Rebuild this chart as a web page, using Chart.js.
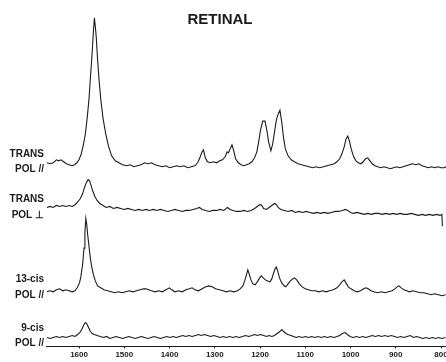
<!DOCTYPE html>
<html>
<head>
<meta charset="utf-8">
<title>Retinal</title>
<script src="https://cdn.jsdelivr.net/npm/chart.js@4/dist/chart.umd.min.js"></script>
<style>
  html, body { margin: 0; padding: 0; background: #fff; }
  #wrap { width: 446px; height: 362px; position: relative; }
</style>
</head>
<body>
<div id="wrap"><canvas id="retinalChart"></canvas></div>
<script>
// Raman shift (cm-1) and intensity above each trace's own baseline
const transPar = [
  [1671, 3], [1664, 2], [1657, 3], [1650, 6], [1645, 5], [1640, 6], [1634, 4], [1628, 2], [1622, 1], [1616, 0],
  [1610, 1], [1605, 3], [1600, 6], [1595, 12], [1590, 22], [1586, 32], [1582, 48], [1578, 67], [1575, 88], [1572, 107],
  [1570, 122], [1568, 137], [1566, 149], [1564, 140], [1562, 130], [1559, 107], [1556, 88], [1552, 67], [1547, 48], [1541, 32],
  [1535, 20], [1528, 10], [1520, 5], [1512, 3], [1504, 1], [1495, 0], [1487, 1], [1479, -1], [1471, 0], [1463, 1],
  [1455, 3], [1447, 2], [1440, 3], [1432, 1], [1424, 0], [1416, -1], [1408, 0], [1400, -2], [1392, -1], [1384, 0],
  [1376, -1], [1368, 0], [1360, -2], [1352, -1], [1344, 0], [1338, 3], [1333, 8], [1328, 14], [1325, 16], [1321, 8],
  [1316, 4], [1310, 3], [1303, 4], [1296, 3], [1289, 5], [1283, 6], [1277, 9], [1273, 14], [1270, 13], [1266, 17],
  [1262, 21], [1258, 15], [1254, 7], [1248, 3], [1242, 1], [1236, 0], [1230, 1], [1224, 2], [1218, 4], [1212, 8],
  [1207, 14], [1203, 24], [1199, 36], [1194, 45], [1189, 45], [1185, 36], [1181, 24], [1176, 15], [1172, 22], [1168, 34],
  [1164, 46], [1160, 52], [1156, 56], [1152, 44], [1148, 28], [1144, 17], [1138, 10], [1131, 6], [1124, 4], [1116, 2],
  [1108, 1], [1100, 0], [1092, -1], [1084, -2], [1076, -1], [1068, -2], [1060, -1], [1052, 0], [1044, 1], [1036, 2],
  [1030, 4], [1024, 7], [1019, 12], [1014, 19], [1010, 27], [1006, 30], [1002, 24], [998, 16], [993, 9], [988, 5],
  [983, 3], [977, 2], [972, 4], [967, 7], [962, 8], [957, 5], [952, 2], [946, 0], [940, -1], [933, -2],
  [926, -1], [919, -2], [912, -3], [905, -2], [898, -1], [891, -2], [884, -1], [877, 0], [870, 1], [863, 2],
  [856, 1], [849, 2], [842, 0], [835, -1], [828, -2], [821, -1], [814, -2], [807, -1], [800, -2], [793, -2], [789, -1]
];

const transPerp = [
  [1671, 1], [1664, 2], [1657, 1], [1650, 3], [1643, 2], [1636, 3], [1629, 2], [1622, 3], [1615, 2], [1608, 4],
  [1602, 7], [1597, 10], [1592, 15], [1588, 21], [1584, 26], [1580, 29], [1577, 28], [1574, 24], [1570, 18], [1565, 12],
  [1560, 8], [1554, 5], [1547, 3], [1540, 1], [1532, 2], [1524, 0], [1516, 1], [1508, 0], [1500, -1], [1492, 0],
  [1484, -1], [1476, -2], [1468, -1], [1460, -2], [1452, -1], [1444, -2], [1436, -1], [1428, -2], [1420, -1], [1412, -2],
  [1404, -3], [1396, -2], [1388, -1], [1380, -2], [1372, -3], [1364, -2], [1356, -2], [1348, -1], [1340, 0], [1334, 1],
  [1328, -1], [1320, -2], [1312, -3], [1304, -2], [1296, -2], [1288, -1], [1280, -2], [1272, 1], [1266, -1], [1260, -2],
  [1252, -3], [1244, -3], [1236, -2], [1228, -3], [1220, -2], [1212, 0], [1206, 2], [1200, 4], [1196, 3], [1192, 0],
  [1186, -1], [1180, 1], [1174, 3], [1168, 5], [1164, 4], [1160, 1], [1154, -1], [1146, -2], [1138, -3], [1130, -2],
  [1122, -4], [1114, -3], [1106, -4], [1098, -3], [1090, -4], [1082, -5], [1074, -4], [1066, -5], [1058, -4], [1050, -5],
  [1042, -4], [1034, -3], [1026, -3], [1018, -2], [1012, -1], [1006, -2], [1000, -4], [994, -5], [986, -4], [978, -5],
  [970, -6], [962, -5], [954, -6], [946, -5], [938, -5], [930, -6], [922, -5], [914, -6], [906, -5], [898, -6],
  [890, -5], [882, -6], [874, -6], [866, -5], [858, -6], [850, -7], [842, -6], [834, -7], [826, -6], [818, -7],
  [810, -6], [802, -7], [798, -6], [797, -18]
];

const cis13Par = [
  [1671, 0], [1664, 1], [1657, 0], [1650, 2], [1643, 3], [1636, 1], [1629, 2], [1622, 1], [1615, 0], [1609, 1],
  [1604, 4], [1599, 9], [1596, 15], [1592, 28], [1589, 44], [1587, 60], [1585, 74], [1583, 68], [1581, 58], [1578, 46],
  [1575, 34], [1572, 25], [1568, 17], [1564, 11], [1559, 6], [1552, 4], [1545, 2], [1537, 1], [1529, 0], [1521, -1],
  [1513, 0], [1505, -1], [1497, 0], [1489, 1], [1481, 0], [1473, 1], [1465, 2], [1457, 3], [1452, 3], [1446, 2],
  [1440, 1], [1432, 0], [1424, 1], [1416, 0], [1408, 2], [1400, 4], [1395, 2], [1388, 0], [1380, 1], [1372, 0],
  [1364, 2], [1356, 3], [1350, 4], [1344, 2], [1336, 1], [1328, 3], [1320, 5], [1313, 6], [1306, 5], [1298, 3],
  [1290, 2], [1282, 1], [1274, 0], [1266, 1], [1258, 0], [1250, 1], [1244, 3], [1238, 6], [1234, 11], [1230, 17],
  [1227, 22], [1224, 18], [1220, 12], [1216, 8], [1211, 7], [1206, 10], [1201, 14], [1197, 16], [1193, 14], [1188, 12],
  [1183, 11], [1178, 10], [1174, 13], [1170, 19], [1166, 24], [1164, 25], [1161, 21], [1157, 14], [1152, 9], [1147, 6],
  [1143, 5], [1138, 8], [1133, 11], [1128, 13], [1124, 14], [1119, 12], [1113, 8], [1107, 5], [1100, 3], [1093, 2],
  [1086, 1], [1078, 1], [1070, 0], [1062, 1], [1054, 0], [1046, 1], [1038, 2], [1030, 4], [1024, 7], [1019, 10],
  [1014, 12], [1010, 9], [1005, 5], [999, 3], [992, 1], [985, 0], [978, 1], [971, 3], [966, 4], [961, 3],
  [955, 1], [948, 0], [940, -1], [932, 0], [924, -1], [916, 0], [908, 1], [902, 3], [897, 5], [893, 6],
  [888, 4], [882, 2], [876, 1], [870, 0], [862, 1], [854, 0], [846, -1], [838, -1], [830, -2], [822, -3],
  [814, -2], [806, -3], [798, -4], [790, -3]
];

const cis9Par = [
  [1671, 0], [1664, -1], [1657, 0], [1650, 1], [1643, 0], [1636, 1], [1629, 0], [1622, 1], [1615, 2], [1609, 1],
  [1603, 3], [1598, 5], [1593, 9], [1589, 13], [1586, 15], [1583, 14], [1579, 10], [1575, 6], [1571, 4], [1566, 3],
  [1560, 2], [1553, 1], [1546, 0], [1539, 1], [1532, -1], [1525, 0], [1518, 1], [1511, 0], [1504, -1], [1497, 0],
  [1490, 1], [1483, 0], [1476, -1], [1469, 0], [1462, 1], [1455, 0], [1448, -1], [1441, 0], [1434, 1], [1427, 0],
  [1420, -1], [1413, 0], [1406, 1], [1399, 0], [1392, 1], [1385, 0], [1378, 1], [1371, 2], [1364, 1], [1357, 2],
  [1350, 1], [1343, 2], [1336, 3], [1330, 2], [1323, 3], [1316, 2], [1309, 1], [1302, 2], [1295, 1], [1288, 0],
  [1281, 1], [1274, 0], [1267, 1], [1260, 0], [1253, 1], [1246, 0], [1239, 1], [1232, 2], [1225, 1], [1218, 2],
  [1212, 3], [1206, 2], [1199, 3], [1192, 2], [1186, 1], [1180, 2], [1174, 1], [1168, 2], [1162, 4], [1156, 6],
  [1152, 8], [1148, 6], [1143, 4], [1138, 3], [1132, 2], [1126, 1], [1120, 0], [1114, 1], [1107, 0], [1100, 1],
  [1093, 0], [1086, 1], [1079, 0], [1072, 1], [1065, 0], [1058, 1], [1051, 0], [1044, 1], [1037, 0], [1030, 1],
  [1024, 2], [1018, 4], [1012, 5], [1007, 3], [1001, 1], [994, 0], [987, 1], [980, 0], [973, 1], [966, 0],
  [959, 1], [952, 2], [945, 1], [938, 2], [931, 1], [924, 2], [917, 1], [910, 2], [903, 1], [896, 0],
  [889, 1], [882, 0], [875, 1], [868, 2], [861, 0], [854, 1], [847, 0], [840, -1], [833, 0], [826, -1],
  [819, 0], [812, -1], [805, 0], [798, -1], [790, 0]
];

const tickValues = [1600, 1500, 1400, 1300, 1200, 1100, 1000, 900, 800];

// vertical offset of each trace in the stack (same units as the intensities)
const traces = [
  { data: transPar, offset: 182, label: ['TRANS', 'POL //'], dy: [-12, 3] },
  { data: transPerp, offset: 139, label: ['TRANS', 'POL \u22A5'], dy: [-9, 7] },
  { data: cis13Par, offset: 55, label: ['13-cis', 'POL //'], dy: [-13, 3] },
  { data: cis9Par, offset: 9, label: ['9-cis', 'POL //'], dy: [-9, 6] }
];

const ink = '#1a1a1a';

const labelsPlugin = {
  id: 'traceLabels',
  afterDraw(chart) {
    const ctx = chart.ctx;
    const y = chart.scales.y;
    ctx.save();
    ctx.fillStyle = ink;
    ctx.textBaseline = 'middle';

    ctx.font = 'bold 15px "Liberation Sans", Arial, sans-serif';
    ctx.textAlign = 'center';
    ctx.fillText('RETINAL', 220, 20);

    ctx.font = 'bold 10px "Liberation Sans", Arial, sans-serif';
    ctx.textAlign = 'right';
    traces.forEach(t => {
      const base = y.getPixelForValue(t.offset);
      ctx.fillText(t.label[0], 44, base + t.dy[0]);
      ctx.fillText(t.label[1], 44, base + t.dy[1]);
    });
    ctx.restore();
  }
};

document.addEventListener('DOMContentLoaded', () => {
  const canvas = document.getElementById('retinalChart');

  new Chart(canvas, {
    type: 'line',
    data: {
      datasets: traces.map(t => ({
        data: t.data.map(([x, v]) => ({ x: x, y: t.offset + v })),
        borderColor: ink,
        borderWidth: 1.1,
        pointRadius: 0,
        tension: 0,
        fill: false
      }))
    },
    options: {
      responsive: true,
      maintainAspectRatio: false,
      animation: false,
      layout: { padding: { left: 46, right: 0, top: 0, bottom: 0 } },
      plugins: {
        legend: { display: false },
        tooltip: { enabled: false }
      },
      scales: {
        x: {
          type: 'linear',
          reverse: true,
          min: 789,
          max: 1673,
          afterBuildTicks(scale) {
            scale.ticks = tickValues.map(v => ({ value: v }));
          },
          afterFit(scale) {
            scale.paddingLeft = 0;
            scale.paddingRight = 0;
          },
          grid: {
            drawOnChartArea: false,
            tickLength: 2,
            color: ink
          },
          border: {
            display: true,
            color: ink,
            width: 1,
            dash: [14, 5]
          },
          ticks: {
            padding: 2,
            maxRotation: 0,
            autoSkip: false,
            color: ink,
            callback: v => String(v),
            font: { family: '"Liberation Sans", Arial, sans-serif', size: 8, weight: 'bold' }
          }
        },
        y: {
          display: false,
          min: 0,
          max: 349
        }
      }
    },
    plugins: [labelsPlugin]
  });
});
</script>
</body>
</html>
